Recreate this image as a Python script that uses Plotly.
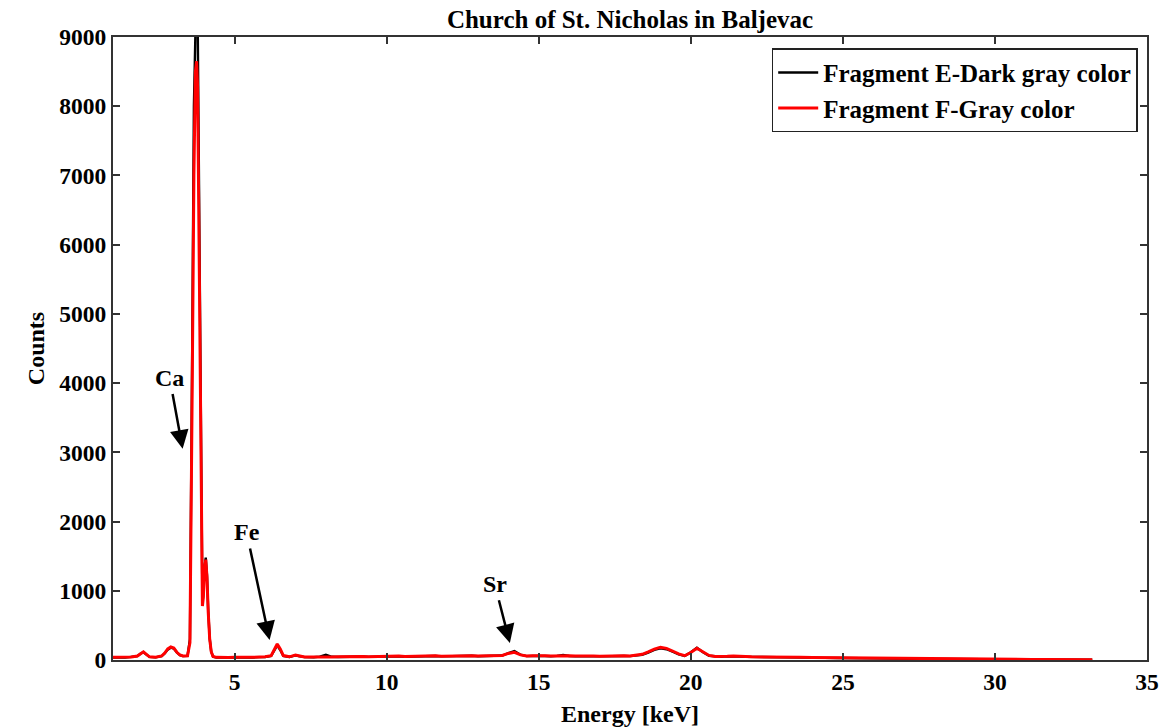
import plotly.graph_objects as go

# EDXRF spectra of two mortar fragments, Church of St. Nicholas in Baljevac
energy_kev = [
    1.0, 1.2, 1.4, 1.6, 1.8, 1.9, 2.0, 2.1, 2.2, 2.4,
    2.6, 2.7, 2.8, 2.9, 3.0, 3.1, 3.2, 3.3, 3.45, 3.53,
    3.57, 3.61, 3.66, 3.71, 3.75, 3.78, 3.82, 3.86, 3.89, 3.92,
    3.94, 3.97, 4.01, 4.05, 4.09, 4.13, 4.18, 4.23, 4.29, 4.4,
    4.6, 4.8, 5.0, 5.2, 5.4, 5.6, 5.8, 6.0, 6.2, 6.3,
    6.4, 6.5, 6.6, 6.8, 7.0, 7.1, 7.3, 7.6, 7.8, 8.0,
    8.2,
    8.4, 8.6, 8.8, 9.0, 9.2, 9.4, 9.6, 9.8, 10.0, 10.2,
    10.4, 10.6, 10.8, 11.0, 11.2, 11.4, 11.6, 11.8, 12.0, 12.2,
    12.4, 12.6, 12.8, 13.0, 13.2, 13.4, 13.6, 13.8, 14.0, 14.2,
    14.4, 14.6, 14.8, 15.0, 15.2, 15.4, 15.6, 15.8, 16.0, 16.2,
    16.4, 16.6, 16.8, 17.0, 17.2, 17.4, 17.6, 17.8, 18.0, 18.2,
    18.4, 18.6, 18.8, 19.0, 19.2, 19.4, 19.6, 19.8, 20.0, 20.2,
    20.4, 20.6, 20.8, 21.0, 21.2, 21.4, 21.6, 21.8,
    22.0, 22.4, 22.8, 23.2, 23.6, 24.0, 24.4, 24.8, 25.2, 25.6,
    26.0, 26.4, 26.8, 27.2, 27.6, 28.0, 28.4, 28.8, 29.2, 29.6,
    30.0, 30.4, 30.8, 31.2, 31.6, 32.0, 32.4, 32.8, 33.2,
]

# Fragment E - dark gray colour
counts_e = [
    35, 40, 34, 42, 55, 90, 112, 78, 44, 38,
    55, 95, 150, 178, 165, 108, 70, 56, 60, 300,
    2100, 4800, 8000, 9700, 9900, 9500, 7400, 5400, 3300, 1500,
    820, 950, 1350, 1480, 1230, 720, 310, 120, 48, 36,
    33, 36, 38, 35, 40, 37, 42, 44, 58, 135,
    210, 145, 60, 44, 66, 58, 42, 40, 48, 75,
    46,
    44, 48, 42, 46, 50, 45, 48, 53, 47, 51,
    55, 48, 52, 56, 50, 54, 58, 52, 55, 59,
    53, 57, 61, 54, 58, 56, 60, 64, 100, 128,
    76, 56, 60, 54, 58, 55, 59, 74, 58, 54,
    57, 53, 56, 52, 55, 51, 54, 58, 56, 62,
    76, 108, 145, 168, 156, 120, 82, 60, 112, 178,
    112, 62, 50, 48, 52, 56, 50, 46,
    44, 41, 42, 38, 36, 33, 31, 29, 26, 25,
    23, 21, 20, 18, 17, 15, 14, 13, 12, 11,
    10, 9, 8, 7, 6, 6, 5, 5, 4,
]

# Fragment F - gray colour
counts_f = [
    38, 42, 36, 44, 58, 95, 118, 82, 46, 40,
    58, 100, 160, 188, 172, 112, 72, 58, 62, 250,
    1800, 4200, 7000, 8500, 8650, 8300, 6500, 4800, 3000, 1400,
    780, 900, 1300, 1450, 1200, 700, 300, 120, 50, 38,
    34, 37, 40, 36, 41, 39, 44, 46, 62, 150,
    232, 160, 64, 46, 72, 62, 44, 42, 45, 52,
    44,
    46, 50, 44, 48, 52, 47, 50, 55, 49, 53,
    57, 50, 54, 58, 52, 56, 60, 54, 57, 61,
    55, 59, 63, 56, 60, 58, 62, 66, 95, 112,
    74, 58, 62, 56, 60, 57, 61, 66, 60, 56,
    59, 55, 58, 54, 57, 53, 56, 60, 58, 66,
    82, 118, 158, 182, 168, 130, 88, 62, 108, 170,
    118, 66, 52, 50, 54, 58, 52, 48,
    46, 43, 44, 40, 38, 35, 33, 31, 28, 27,
    25, 23, 22, 20, 19, 17, 16, 14, 13, 12,
    11, 10, 9, 8, 7, 7, 6, 5, 5,
]

series_names = ["Fragment E-Dark gray color", "Fragment F-Gray color"]

x_ticks = [5, 10, 15, 20, 25, 30, 35]
y_ticks = [0, 1000, 2000, 3000, 4000, 5000, 6000, 7000, 8000, 9000]

# element labels: name, text position (keV, counts), arrow tip (keV, counts)
element_labels = ["Ca", "Fe", "Sr"]
label_pos_kev = [2.86, 5.39, 13.55]
label_pos_counts = [4080, 1850, 1100]
arrow_tip_kev = [3.29, 6.15, 14.05]
arrow_tip_counts = [3050, 290, 245]

FONT = "Liberation Serif"
AXIS_COLOR = "#333333"

fig = go.Figure()
fig.add_trace(go.Scatter(
    x=energy_kev, y=counts_e, mode="lines", name=series_names[0],
    line=dict(color="black", width=2.4),
))
fig.add_trace(go.Scatter(
    x=energy_kev, y=counts_f, mode="lines", name=series_names[1],
    line=dict(color="#ff0000", width=3),
))

for name, tx, ty, hx, hy in zip(element_labels, label_pos_kev, label_pos_counts,
                                arrow_tip_kev, arrow_tip_counts):
    fig.add_annotation(
        x=hx, y=hy, ax=tx, ay=ty, xref="x", yref="y", axref="x", ayref="y",
        text=name, showarrow=True, arrowhead=2, arrowsize=1.5, arrowwidth=2.5,
        arrowcolor="black", standoff=0, startstandoff=2,
        font=dict(family=FONT, size=24, color="black", weight="bold"),
    )

axis_common = dict(
    showline=True, linecolor=AXIS_COLOR, linewidth=2, mirror="ticks",
    ticks="inside", ticklen=7, tickwidth=1.5, tickcolor=AXIS_COLOR,
    showgrid=False, zeroline=False, automargin=False,
    tickfont=dict(family=FONT, size=23.5, color="black", weight="bold"),
)

fig.update_xaxes(
    range=[1, 35], tickvals=x_ticks, ticktext=[str(v) for v in x_ticks],
    title=dict(text="Energy [keV]", standoff=12,
               font=dict(family=FONT, size=24, color="black", weight="bold")),
    **axis_common,
)
fig.update_yaxes(
    range=[0, 9000], tickvals=y_ticks, ticktext=[str(v) for v in y_ticks],
    title=dict(text="Counts", standoff=8,
               font=dict(family=FONT, size=24, color="black", weight="bold")),
    **axis_common,
)

fig.update_layout(
    width=1160, height=727,
    margin=dict(l=113, r=13, t=37, b=67),
    paper_bgcolor="white", plot_bgcolor="white",
    title=dict(
        text="Church of St. Nicholas in Baljevac",
        x=0.5, xref="paper", y=1 - 19 / 727, yref="container",
        xanchor="center", yanchor="middle",
        font=dict(family=FONT, size=25, color="black", weight="bold"),
    ),
    legend=dict(
        x=0.991, y=0.982, xanchor="right", yanchor="top",
        bgcolor="white", bordercolor="#222222", borderwidth=1.5,
        font=dict(family=FONT, size=25, color="black", weight="bold"),
        tracegroupgap=0, itemwidth=40,
    ),
    showlegend=True,
)

fig.write_html("out.html")
